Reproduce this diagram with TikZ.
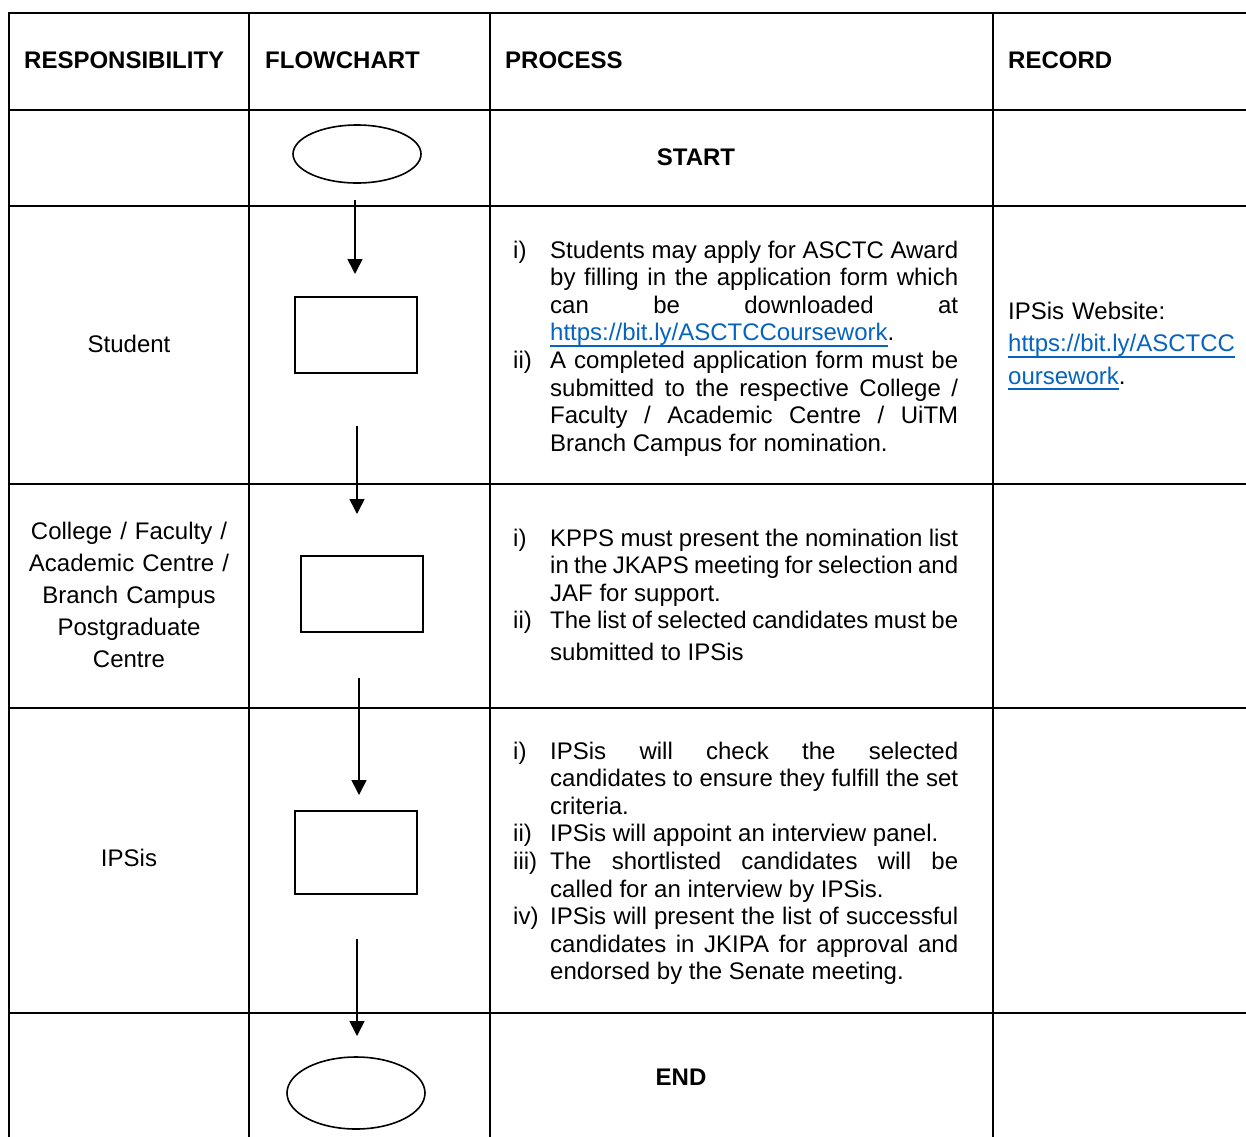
\documentclass[tikz,border=0pt]{standalone}
\usepackage{fontspec}
\setmainfont{Liberation Sans}
\usepackage{xcolor}
\usetikzlibrary{positioning,calc,arrows.meta,shapes.geometric}
\definecolor{linkblue}{HTML}{0563C1}
\newcommand{\weblink}[1]{\leavevmode{\color{linkblue}\setbox0\hbox{#1}\rlap{\rule[-6pt]{\wd0}{1.8pt}}\box0}}
\newcommand{\procitem}[2]{\noindent\hangindent=37pt\hangafter=1\makebox[37pt][l]{#1}#2\par}
\tolerance=9999
\hbadness=10000
\hyphenpenalty=10000
\exhyphenpenalty=10000

\begin{document}
\begin{tikzpicture}[x=1pt, y=-1pt, ->, >={Triangle[width=15pt,length=15pt]},
 grid/.style={-, line width=2.2pt, line cap=rect},
 terminal/.style={ellipse, draw, line width=1.6pt, minimum width=128pt, minimum height=58pt, inner sep=0pt},
 stepbox/.style={rectangle, draw, line width=2pt, minimum width=122pt, minimum height=76pt, inner sep=0pt},
 head/.style={anchor=base west, inner sep=0pt, font=\fontsize{24}{27.6}\selectfont\bfseries},
 plain/.style={inner sep=0pt, font=\fontsize{24}{27.6}\selectfont},
 proc/.style={anchor=base west, text width=445pt, align=justify, inner sep=0pt, font=\fontsize{24}{27.6}\selectfont},
 every edge/.append style={line width=1.6pt}]

\clip (0,0) rectangle (1246,1136);

% table
\foreach \y in {13,110,206,484,708,1013}
 \draw[grid] (9,\y) -- (1260,\y);
\foreach \x in {9,249,490,993}
 \draw[grid] (\x,13) -- (\x,1150);

% header
\node[head] (hresp) at (24,68.5) {RESPONSIBILITY};
\node[head] (hflow) at (265,68.5) {FLOWCHART};
\node[head] (hproc) at (505,68.5) {PROCESS};
\node[head] (hrec) at (1008,68.5) {RECORD};

% flowchart
\node[terminal] (start) at (357,154) {};
\node[stepbox] (box1) at (356,335) {};
\node[stepbox] (box2) at (362,593.5) {};
\node[stepbox, minimum height=83pt] (box3) at (356,852.5) {};
\node[terminal, minimum width=138pt, minimum height=72pt] (end) at (356,1093) {};

\coordinate (a1) at (355,200);
\coordinate (b1) at (355,274);
\coordinate (a2) at (357,426);
\coordinate (b2) at (357,514);
\coordinate (a3) at (359,678);
\coordinate (b3) at (359,795);
\coordinate (a4) at (357,939);
\coordinate (b4) at (357,1036);
\path
 (a1) edge (b1)
 (a2) edge (b2)
 (a3) edge (b3)
 (a4) edge (b4);

% responsibility
\node[plain] (student) at (129,344) {Student};
\node[plain, anchor=base, text width=230pt, align=center, font=\fontsize{24}{32}\selectfont] (college) at (129,539)
 {College / Faculty /\\ Academic Centre /\\ Branch Campus\\ Postgraduate\\ Centre};
\node[plain] (ipsis) at (129,858) {IPSis};

% process
\node[head, anchor=center] (start text) at (696,157) {START};
\node[proc] (proc1) at (513,258) {%
 \procitem{i)}{Students may apply for ASCTC Award\linebreak by filling in the application form which\linebreak can be downloaded at\linebreak \weblink{https://bit.ly/ASCTCCoursework}.}%
 \procitem{ii)}{A completed application form must be submitted to the respective College /\linebreak Faculty / Academic Centre / UiTM Branch Campus for nomination.}};
\node[proc] (proc2) at (513,546) {%
 \procitem{i)}{KPPS must present the nomination list in the JKAPS meeting for selection and JAF for support.}%
 \procitem{ii)}{The list of selected\vadjust{\vskip 4.5pt} candidates must be submitted to IPSis}};
\node[proc] (proc3) at (513,759) {%
 \procitem{i)}{IPSis will check the selected\linebreak candidates to ensure they fulfill the set\linebreak criteria.}%
 \procitem{ii)}{IPSis will appoint an interview panel.}%
 \procitem{iii)}{The shortlisted candidates will be called for an interview by IPSis.}%
 \procitem{iv)}{IPSis will present the list of successful candidates in JKIPA for approval and endorsed by the Senate meeting.}};
\node[head, anchor=center] (end text) at (681,1077) {END};

% record
\node[plain, anchor=base west, text width=240pt, align=left, font=\fontsize{24}{32.5}\selectfont] (record) at (1008,319)
 {IPSis Website:\\ \weblink{https://bit.ly/ASCTCC}\\ \weblink{oursework}.};
\end{tikzpicture}
\end{document}
